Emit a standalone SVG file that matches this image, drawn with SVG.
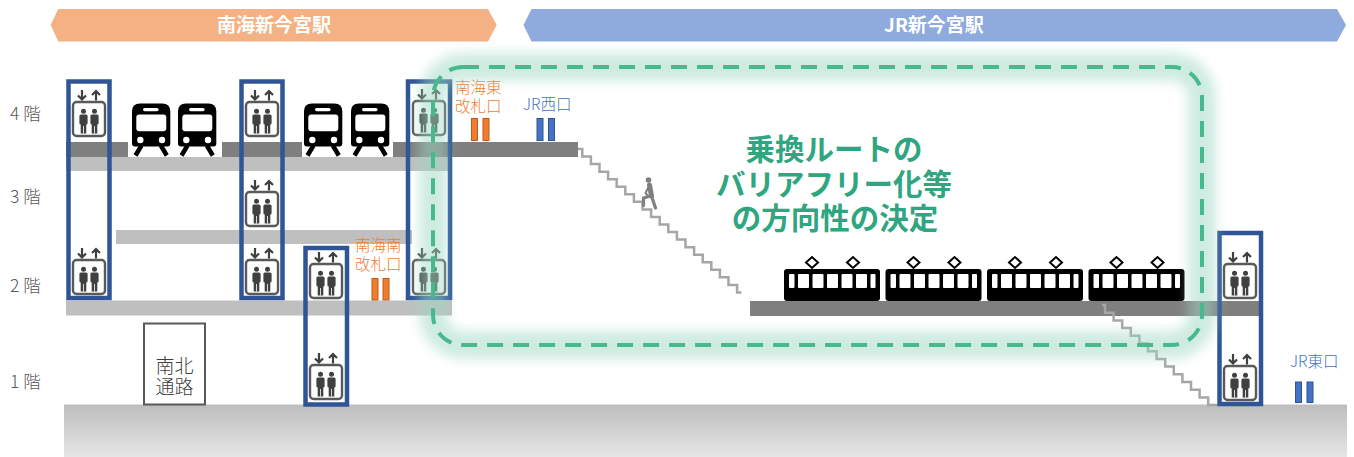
<svg xmlns="http://www.w3.org/2000/svg" xmlns:xlink="http://www.w3.org/1999/xlink" width="1354" height="457" viewBox="0 0 1354 457">
  <style>
    text { font-family: "Noto Sans CJK JP", "Noto Sans", sans-serif; }
    .banner-text { fill: #ffffff; font-size: 19px; font-weight: 700; text-anchor: middle; }
    .floor { fill: #595959; font-size: 17.5px; font-weight: 300; }
    .nankai { fill: #ED7D31; font-size: 15.5px; font-weight: 300; }
    .jr { fill: #4472C4; font-size: 15.5px; font-weight: 300; }
    .passage { fill: #404040; font-size: 19px; font-weight: 300; text-anchor: middle; }
    .headline { fill: #2FA67F; font-size: 29.5px; font-weight: 700; text-anchor: middle; }
    .shaft { fill: none; stroke: #2F5597; stroke-width: 4.5; }
    .slab-dark { fill: #7F7F7F; }
    .slab-light { fill: #BFBFBF; }
    .stairs { fill: none; stroke: #A6A6A6; stroke-width: 2.5; stroke-linejoin: miter; }
    .gate-n { fill: #ED7D31; stroke: #C55A11; stroke-width: 1; }
    .gate-j { fill: #4472C4; stroke: #2F5597; stroke-width: 1; }
  </style>
  <defs>
    <linearGradient id="groundGrad" x1="0" y1="0" x2="0" y2="1">
      <stop offset="0" stop-color="#BDBDBD"/>
      <stop offset="1" stop-color="#E6E6E6"/>
    </linearGradient>
    <filter id="soft" x="-10%" y="-20%" width="120%" height="140%">
      <feGaussianBlur stdDeviation="6"/>
    </filter>
    <!-- elevator pictogram, origin at top-centre of the arrows -->
    <g id="ev">
      <rect x="-16" y="12" width="32" height="34" rx="3.5" fill="#ffffff" stroke="#595959" stroke-width="2.4"/>
      <path d="M-7 0 V9.5 M-11 5.5 L-7 9.5 L-3 5.5 M7 10.5 V1 M3 5 L7 1 L11 5" fill="none" stroke="#404040" stroke-width="2.2"/>
      <g fill="#404040">
        <circle cx="-5.5" cy="21.3" r="2.5"/>
        <rect x="-9.6" y="24.4" width="8.2" height="10.2" rx="1.5"/>
        <rect x="-8.3" y="33" width="5.6" height="10.5"/>
        <circle cx="5.5" cy="21.3" r="2.5"/>
        <rect x="1.4" y="24.4" width="8.2" height="10.2" rx="1.5"/>
        <rect x="2.7" y="33" width="5.6" height="10.5"/>
      </g>
      <path d="M-5.5 36 V43.5 M5.5 36 V43.5" stroke="#ffffff" stroke-width="0.8"/>
    </g>
    <!-- front view of a train -->
    <g id="train-front">
      <path d="M0 8 Q0 0 8 0 H30.3 Q38.3 0 38.3 8 V40 Q38.3 43 35.3 43 H3 Q0 43 0 40 Z" fill="#000000"/>
      <rect x="11" y="4.4" width="15.6" height="3.4" rx="1.7" fill="#ffffff"/>
      <rect x="4.3" y="11" width="30" height="16.7" rx="3" fill="#ffffff"/>
      <circle cx="8.3" cy="36.5" r="3.2" fill="#ffffff"/>
      <circle cx="30" cy="36.5" r="3.2" fill="#ffffff"/>
      <path d="M9.5 42 L3.5 52 M28.8 42 L34.8 52" stroke="#000000" stroke-width="4.5"/>
    </g>
    <!-- side view of one car, origin at top-left of the body -->
    <g id="car">
      <rect x="0" y="0" width="96" height="32" rx="3" fill="#000000"/>
      <g fill="#ffffff">
        <rect x="5" y="5" width="5.5" height="14" rx="1"/>
        <rect x="14" y="5" width="11" height="14" rx="1"/>
        <rect x="28.5" y="5" width="11" height="14" rx="1"/>
        <rect x="43" y="5" width="11" height="14" rx="1"/>
        <rect x="57.5" y="5" width="11" height="14" rx="1"/>
        <rect x="72" y="5" width="11" height="14" rx="1"/>
        <rect x="86.5" y="5" width="5" height="14" rx="1"/>
      </g>
      <g fill="#ffffff" stroke="#000000" stroke-width="2">
        <polygon points="22,-6.5 28,-12 34,-6.5 28,-1"/>
        <polygon points="63,-6.5 69,-12 75,-6.5 69,-1"/>
      </g>
    </g>
  </defs>

  <rect x="0" y="0" width="1354" height="457" fill="#ffffff"/>

  <!-- station banners -->
  <g id="banner-nankai">
    <polygon points="50.7,25 58.3,9 488,9 496.7,25 488,41.5 58.3,41.5" fill="#F4B183"/>
    <text class="banner-text" x="274" y="32">南海新今宮駅</text>
  </g>
  <g id="banner-jr">
    <polygon points="523.5,25 531.5,9 1337,9 1346,25 1337,41.5 531.5,41.5" fill="#8FAADC"/>
    <text class="banner-text" x="934" y="32">JR新今宮駅</text>
  </g>

  <!-- floor labels -->
  <g id="floor-labels">
    <text class="floor" x="10" y="120">4 階</text>
    <text class="floor" x="10" y="203">3 階</text>
    <text class="floor" x="10" y="292">2 階</text>
    <text class="floor" x="10" y="388">1 階</text>
  </g>

  <!-- ground and floor slabs -->
  <g id="structure">
    <rect x="64" y="404.5" width="1283" height="52.5" fill="url(#groundGrad)"/>
    <rect class="slab-light" x="66" y="157" width="386" height="14"/>
    <rect class="slab-dark" x="66" y="142" width="62" height="15"/>
    <rect class="slab-dark" x="222" y="142" width="80" height="15"/>
    <rect class="slab-dark" x="393" y="142" width="185" height="15"/>
    <rect class="slab-light" x="116" y="230" width="296" height="14"/>
    <rect class="slab-light" x="66" y="300.5" width="386" height="15"/>
    <rect class="slab-dark" x="750" y="301" width="510" height="15"/>
  </g>

  <!-- stairs -->
  <g id="stairs">
    <path class="stairs" d="M578 149 h4.3 v7.55 h8.6 v7.55 h8.6 v7.55 h8.6 v7.55 h8.6 v7.55 h8.6 v7.55 h8.6 v7.55 h8.6 v7.55 h8.6 v7.55 h8.6 v7.55 h8.6 v7.55 h8.6 v7.55 h8.6 v7.55 h8.6 v7.55 h8.6 v7.55 h8.6 v7.55 h8.6 v7.55 h8.6 v7.55 h8.6 v7.55 h4.3"/>
    <path class="stairs" d="M1102 305 h3 v7.7 h8.6 v7.7 h8.6 v7.7 h8.6 v7.7 h8.6 v7.7 h8.6 v7.7 h8.6 v7.7 h8.6 v7.7 h8.6 v7.7 h8.6 v7.7 h8.6 v7.7 h8.6 v7.7 h8.6 v7.7 h9"/>
  </g>

  <!-- Nankai trains at 4F -->
  <g id="nankai-trains">
    <use href="#train-front" x="132" y="103.5"/>
    <use href="#train-front" x="178" y="103.5"/>
    <use href="#train-front" x="304" y="103.5"/>
    <use href="#train-front" x="351" y="103.5"/>
  </g>

  <!-- JR train at 2F -->
  <g id="jr-train">
    <use href="#car" x="784" y="269"/>
    <use href="#car" x="885.5" y="269"/>
    <use href="#car" x="987" y="269"/>
    <use href="#car" x="1088.5" y="269"/>
  </g>

  <!-- north-south passage -->
  <g id="passage">
    <rect x="144" y="323.5" width="61" height="81" fill="#ffffff" stroke="#595959" stroke-width="2"/>
    <text class="passage" x="174.5" y="373">南北</text>
    <text class="passage" x="174.5" y="394">通路</text>
  </g>

  <!-- ticket gates -->
  <g id="gate-nankai-east">
    <text class="nankai" x="455" y="93">南海東</text>
    <text class="nankai" x="455" y="112">改札口</text>
    <rect class="gate-n" x="471.5" y="118.5" width="6" height="22"/>
    <rect class="gate-n" x="483" y="118.5" width="6" height="22"/>
  </g>
  <g id="gate-jr-west">
    <text class="jr" x="523" y="110">JR西口</text>
    <rect class="gate-j" x="537" y="118.5" width="6" height="22"/>
    <rect class="gate-j" x="548.5" y="118.5" width="6" height="22"/>
  </g>
  <g id="gate-nankai-south">
    <text class="nankai" x="355" y="251">南海南</text>
    <text class="nankai" x="355" y="270">改札口</text>
    <rect class="gate-n" x="372" y="278.5" width="6" height="21.5"/>
    <rect class="gate-n" x="383" y="278.5" width="6" height="21.5"/>
  </g>
  <g id="gate-jr-east">
    <text class="jr" x="1290" y="367">JR東口</text>
    <rect class="gate-j" x="1295.5" y="382" width="6" height="20.5"/>
    <rect class="gate-j" x="1307" y="382" width="6" height="20.5"/>
  </g>

  <!-- elevator shafts -->
  <g id="elevator-1">
    <rect class="shaft" x="68.5" y="81.5" width="41" height="216.5"/>
    <use href="#ev" x="89" y="90"/>
    <use href="#ev" x="89" y="248"/>
  </g>
  <g id="elevator-2">
    <rect class="shaft" x="241.5" y="81.5" width="41" height="216.5"/>
    <use href="#ev" x="262" y="90"/>
    <use href="#ev" x="262" y="180"/>
    <use href="#ev" x="262" y="248"/>
  </g>
  <g id="elevator-3">
    <rect class="shaft" x="305.5" y="248" width="41.5" height="156.5"/>
    <use href="#ev" x="326" y="252"/>
    <use href="#ev" x="326" y="353"/>
  </g>
  <g id="elevator-4">
    <rect class="shaft" x="408" y="81.5" width="42" height="216.5"/>
    <use href="#ev" x="429" y="89"/>
    <use href="#ev" x="429" y="248"/>
  </g>
  <g id="elevator-5">
    <rect class="shaft" x="1219.5" y="233" width="41.5" height="171"/>
    <use href="#ev" x="1240" y="252"/>
    <use href="#ev" x="1240" y="354"/>
  </g>

  <!-- person on the stairs -->
  <g id="walker" fill="none" stroke="#7F7F7F" stroke-linecap="round" stroke-linejoin="round">
    <circle cx="648.5" cy="180" r="2.8" fill="#7F7F7F" stroke="none"/>
    <path d="M649.5 185 L651.5 196" stroke-width="5"/>
    <path d="M648.5 187 L645.5 193 L648 196" stroke-width="2"/>
    <path d="M650.5 196 L643.5 198 L643.5 205.5" stroke-width="3.2"/>
    <path d="M651.5 196 L655.5 208" stroke-width="3.2"/>
  </g>

  <!-- transfer route outline -->
  <g id="route-area">
    <rect x="433" y="67" width="769" height="278" rx="30" fill="none" stroke="#9ED8C2" stroke-width="28" opacity="0.5" filter="url(#soft)"/>
    <rect x="433" y="67" width="769" height="278" rx="30" fill="none" stroke="#47B98F" stroke-width="4" stroke-dasharray="16 10"/>
    <text class="headline" x="834" y="159.5">乗換ルートの</text>
    <text class="headline" x="834" y="195">バリアフリー化等</text>
    <text class="headline" x="835" y="229">の方向性の決定</text>
  </g>
</svg>
